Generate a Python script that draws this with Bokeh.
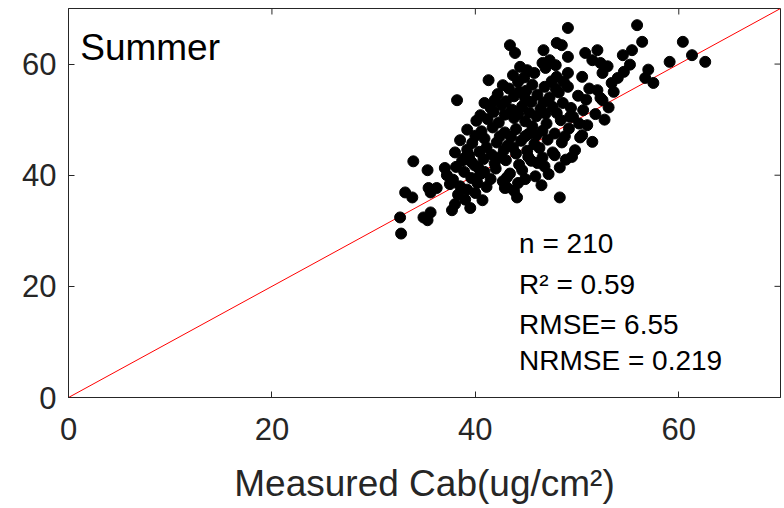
import math
from bokeh.plotting import figure
from bokeh.models import Range1d, Label, FixedTicker
from bokeh.embed import file_html
from bokeh.resources import INLINE

# measured (x) vs estimated (y) Cab, Summer, n = 210
points = [
    # lower tail
    (32.7, 29.5), (32.6, 32.4), (33.1, 36.9), (33.8, 36.0), (33.9, 42.5), (35.3, 40.9),
    (34.9, 32.4), (35.6, 33.3), (35.3, 31.9), (35.4, 37.7), (36.2, 37.7), (35.6, 36.9),
    (37.0, 41.3), (37.7, 33.7), (39.5, 34.1), (40.7, 35.5), (42.9, 37.7), (44.1, 36.0),
    (48.3, 36.0), (43.1, 37.8),
    # lower-left cluster
    (37.2, 40.0), (37.8, 39.2), (38.1, 41.5), (38.5, 38.0), (38.9, 40.6), (38.3, 36.5),
    (39.2, 37.4), (39.6, 39.5), (38.0, 34.8), (39.0, 35.6), (37.5, 38.4), (39.9, 41.8),
    (38.7, 42.6), (40.2, 38.6), (40.5, 40.2), (39.4, 43.5), (40.0, 36.8),
    # upper part
    (49.1, 66.5), (43.4, 63.4), (43.9, 62.0), (46.7, 62.5), (48.0, 63.8), (48.5, 63.4),
    (49.1, 61.3), (50.8, 62.0), (46.6, 60.2), (47.3, 60.7), (44.4, 59.5), (45.1, 58.9),
    (43.7, 58.0), (42.7, 56.2), (41.3, 57.1), (38.2, 53.5), (49.1, 58.4), (50.5, 57.7),
    (48.0, 57.7), (49.1, 55.9), (41.9, 53.5), (40.5, 50.8), (50.6, 51.7),
    # right part
    (55.9, 67.0), (56.4, 64.0), (55.4, 62.5), (54.5, 61.6), (60.4, 64.0), (61.3, 61.6),
    (62.6, 60.4), (59.1, 60.4), (56.7, 57.5), (57.5, 56.6), (52.0, 62.5), (51.5, 60.7),
    (52.3, 60.2), (52.5, 58.4), (54.0, 57.5), (53.4, 56.6), (52.0, 55.3), (52.3, 53.9),
    (49.3, 50.5), (48.6, 53.0), (51.0, 49.0), (50.5, 47.2), (52.5, 53.5), (48.3, 41.4),
    (46.1, 42.2), (50.3, 46.8), (49.6, 50.5),
    # dense core
    (44.2, 56.8), (45.6, 56.3), (46.8, 55.9), (47.5, 56.9), (45.0, 55.2), (43.3, 55.6),
    (42.2, 54.6), (43.8, 54.2), (44.9, 53.8), (46.1, 54.5), (47.3, 54.0), (48.2, 54.9),
    (45.5, 53.2), (40.9, 53.0),
    (41.5, 52.1), (42.6, 52.6), (43.6, 51.8), (44.6, 52.4), (46.4, 52.0), (47.6, 52.3),
    (48.0, 51.2), (45.3, 51.3), (42.9, 50.9),
    (40.1, 49.8), (41.2, 50.1), (42.3, 49.5), (43.8, 50.3), (44.9, 49.7), (46.0, 50.6),
    (47.0, 49.3), (48.4, 49.9), (45.6, 48.8),
    (39.2, 48.2), (40.6, 47.9), (41.7, 48.6), (42.9, 47.7), (44.0, 48.3), (45.2, 47.4),
    (46.6, 48.0), (47.8, 47.5), (49.2, 48.4), (43.5, 46.9),
    (38.5, 46.3), (39.7, 45.8), (40.9, 46.6), (42.1, 45.9), (43.2, 45.4), (44.5, 46.2),
    (45.8, 45.6), (47.1, 46.4), (48.5, 45.9), (46.3, 44.9),
    (38.0, 44.1), (39.2, 44.6), (40.4, 44.2), (41.6, 43.7), (42.8, 44.5), (44.0, 43.9),
    (45.1, 44.4), (47.6, 44.1), (49.8, 44.5), (47.8, 43.6),
    (39.6, 42.4), (40.8, 42.9), (41.9, 42.1), (43.0, 42.7), (44.3, 41.9), (45.5, 42.6),
    (46.8, 41.6), (48.9, 42.8),
    (40.9, 40.6), (42.0, 41.2), (43.4, 40.3), (44.6, 40.9), (45.9, 39.8), (41.5, 39.3),
    (42.7, 38.9),
    (41.1, 37.9), (44.2, 38.6), (46.5, 38.2), (43.8, 37.2),
    (45.8, 58.4), (46.9, 59.3), (44.8, 57.6), (47.9, 59.8),
    (51.2, 55.6), (50.9, 53.6), (53.1, 52.2), (51.8, 51.0), (53.6, 55.0), (52.7, 50.0),
    (51.5, 46.0), (54.6, 58.6), (53.0, 59.6), (55.2, 59.9), (57.0, 59.0),
    (43.0, 53.3), (44.3, 55.0), (46.7, 53.1), (47.9, 55.6), (41.8, 51.4), (44.2, 51.0),
    (46.9, 51.1), (42.4, 47.0), (44.9, 47.0), (46.0, 47.2), (48.8, 47.0), (40.0, 47.1),
    (41.1, 45.0), (43.7, 45.0), (46.6, 43.2), (45.2, 43.3), (42.3, 43.2), (39.0, 43.2),
    (40.3, 41.3), (43.1, 39.6), (44.9, 39.3), (47.2, 40.2), (49.5, 43.3), (50.2, 49.3),
    (49.4, 52.1), (48.7, 56.8), (50.1, 54.3),
]
measured = [p[0] for p in points]
estimated = [p[1] for p in points]

axis_min, axis_max = 0, 70
ticks = [0, 20, 40, 60]
one_to_one = [axis_min, axis_max]
stats_lines = ["n = 210", "R\u00b2 = 0.59", "RMSE= 6.55", "NRMSE = 0.219"]
stats_y = [27.7, 20.4, 13.2, 6.6]
panel_title = "Summer"

DARK = "#262626"
FONT = "Liberation Sans"

p = figure(width=784, height=508, output_backend="svg", toolbar_location=None,
           x_range=Range1d(axis_min, axis_max), y_range=Range1d(axis_min, axis_max),
           min_border_left=68, min_border_right=4, min_border_top=8, min_border_bottom=111,
           x_axis_label="Measured Cab(ug/cm\u00b2)")
p.background_fill_color = "white"
p.border_fill_color = "white"
p.outline_line_color = DARK
p.outline_line_width = 1
p.grid.visible = False

for ax in (p.xaxis[0], p.yaxis[0]):
    ax.ticker = FixedTicker(ticks=ticks)
    ax.major_tick_in = 6
    ax.major_tick_out = 0
    ax.minor_tick_line_color = None
    ax.axis_line_color = DARK
    ax.major_tick_line_color = DARK
    ax.major_label_text_font = FONT
    ax.major_label_text_font_size = "31px"
    ax.major_label_text_color = DARK
    ax.axis_label_text_font = FONT
    ax.axis_label_text_font_size = "37px"
    ax.axis_label_text_font_style = "normal"
    ax.axis_label_text_color = DARK

p.xaxis[0].major_label_standoff = 20
p.xaxis[0].axis_label_standoff = 20
p.yaxis[0].major_label_standoff = 12

# mirrored inward ticks on the top and right edges of the box
p.scatter(ticks, [axis_max] * len(ticks), marker="dash", angle=math.pi / 2, size=12,
          line_color=DARK, line_width=1)
p.scatter([axis_max] * len(ticks), ticks, marker="dash", size=12,
          line_color=DARK, line_width=1)

p.line(one_to_one, one_to_one, line_color="red", line_width=1)
p.scatter(measured, estimated, size=11, marker="circle", fill_color="black", line_color="black")

p.add_layout(Label(x=1.15, y=63.0, text=panel_title, text_font=FONT, text_font_size="37px",
                   text_color="black", text_baseline="middle"))
for t, yy in zip(stats_lines, stats_y):
    p.add_layout(Label(x=44.3, y=yy, text=t, text_font=FONT, text_font_size="28px",
                       text_color="black", text_baseline="middle"))

open("out.html", "w").write(file_html(p, INLINE))
